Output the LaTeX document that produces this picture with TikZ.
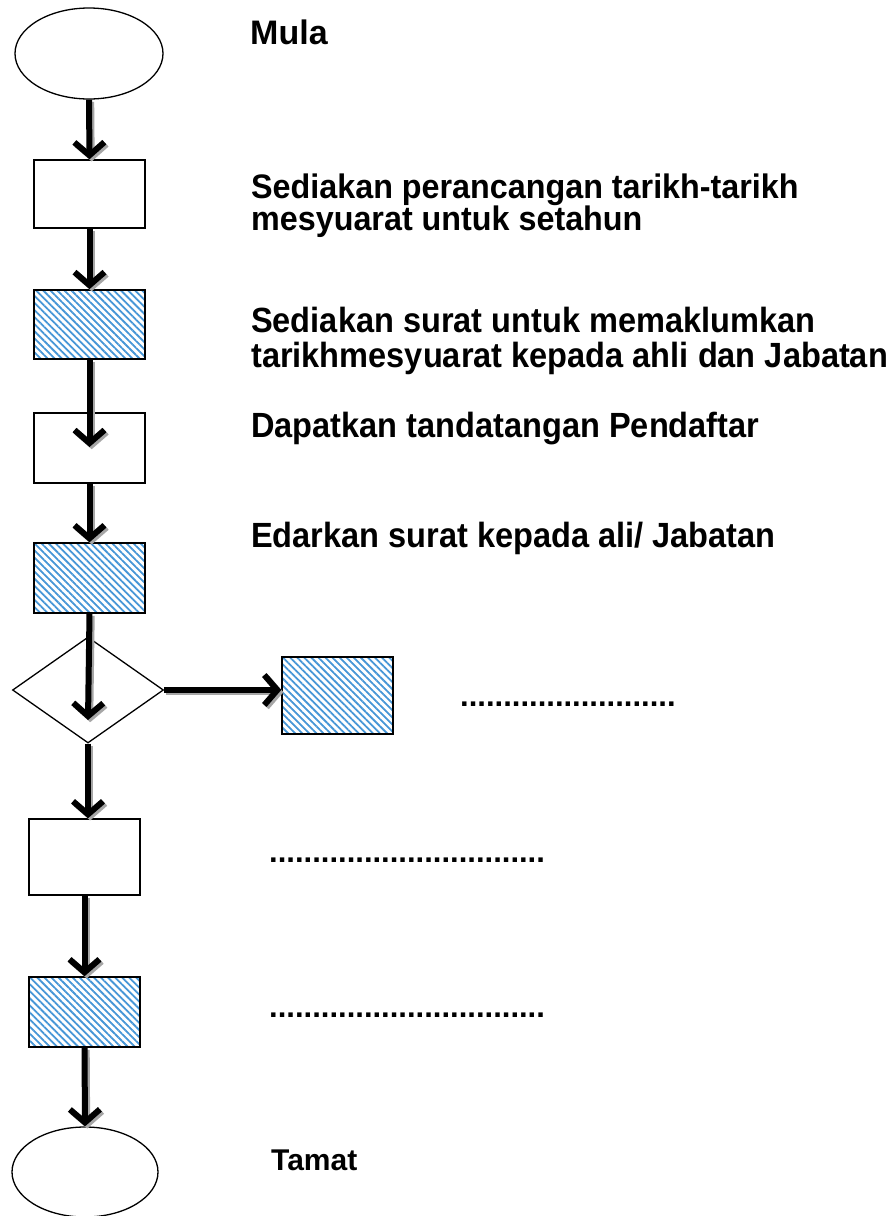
\documentclass[tikz,border=0pt]{standalone}
\usepackage{fontspec}
\setmainfont{Liberation Sans}
\usetikzlibrary{arrows.meta,shapes.geometric,patterns.meta}
\definecolor{hatch}{RGB}{70,150,215}
\newcommand\flowline[2]{%
  \draw[flowshade] #1 -- #2;
  \draw[flow] #1 -- #2;}
\begin{document}
\begin{tikzpicture}[x=1pt,y=-1pt,
  box/.style={draw=black,line width=1.5pt,inner sep=0pt,fill=white},
  hbox/.style={draw=black,line width=1.5pt,inner sep=0pt,
    pattern={Lines[angle=-45,distance=5pt,line width=1.8pt]},pattern color=hatch},
  term/.style={draw=black,line width=1.3pt,ellipse,inner sep=0pt},
  decide/.style={draw=black,line width=1.3pt,diamond,inner sep=0pt},
  flowtip/.style={-{Straight Barb[length=13pt,width=30pt,line width=6pt]}},
  flow/.style={flowtip,line width=6pt,draw=black},
  flowshade/.style={flowtip,line width=6pt,draw=black!35,transform canvas={shift={(2.2pt,-2.2pt)}}},
  lbl/.style={inner sep=0pt,anchor=base west,align=left,font=\bfseries\fontsize{31}{34}\selectfont},
  lblc/.style={lbl,font=\bfseries\fontsize{35}{35}\selectfont,xscale=0.93,transform shape}]
\fill[white] (0,0) rectangle (895,1216);
\useasboundingbox (0,0) rectangle (895,1216);

% shapes
\node[term,minimum width=148pt,minimum height=91pt] (e1) at (89,53.5) {};
\node[box,minimum width=111pt,minimum height=68pt] (r1) at (89.5,194) {};
\node[hbox,minimum width=111pt,minimum height=69pt] (r2) at (89.5,324.5) {};
\node[box,minimum width=111pt,minimum height=70pt] (r3) at (89.5,448) {};
\node[hbox,minimum width=111pt,minimum height=70pt] (r4) at (89.5,578) {};
\node[decide,minimum width=151pt,minimum height=106pt,shape aspect=1.42] (d) at (88,690) {};
\node[hbox,minimum width=111pt,minimum height=77pt] (r7) at (337.5,695.5) {};
\node[box,minimum width=111pt,minimum height=76pt] (r5) at (84.5,857) {};
\node[hbox,minimum width=111pt,minimum height=70pt] (r6) at (84.5,1012) {};
\node[term,minimum width=146pt,minimum height=90pt] (e2) at (85,1172) {};

\coordinate (t3) at (89.5,447);
\coordinate (td) at (88,720);

% connectors
\flowline{(e1.south)}{(r1.north)}
\flowline{(r1.south)}{(r2.north)}
\flowline{(r2.south)}{(t3)}
\flowline{(r3.south)}{(r4.north)}
\flowline{(r4.south)}{(td)}
\flowline{(d.east)}{(d.east -| r7.west)}
\flowline{(d.south)}{(d.south |- r5.north)}
\flowline{(r5.south)}{(r6.north)}
\flowline{(r6.south)}{(e2.north)}

% labels
\node[lbl,font=\bfseries\fontsize{34}{34}\selectfont] (lmula) at (250,44) {Mula};
\node[lbl,font=\bfseries\fontsize{34}{32}\selectfont,xscale=0.95,transform shape] (l1) at (251,230) {Sediakan perancangan tarikh-tarikh\\mesyuarat untuk setahun};
\node[lblc] (l2) at (251,367) {Sediakan surat untuk memaklumkan\\tarikhmesyuarat kepada ahli dan Jabatan};
\node[lblc] (l3) at (251,437) {Dapatkan tandatangan Pendaftar};
\node[lblc] (l4) at (251,547) {Edarkan surat kepada ali/ Jabatan};
\node[lbl] (l5) at (460,706) {.........................};
\node[lbl] (l6) at (269,862) {................................};
\node[lbl] (l7) at (269,1017) {................................};
\node[lbl,font=\bfseries\fontsize{30}{34}\selectfont] (ltamat) at (271,1170) {Tamat};
\end{tikzpicture}
\end{document}
